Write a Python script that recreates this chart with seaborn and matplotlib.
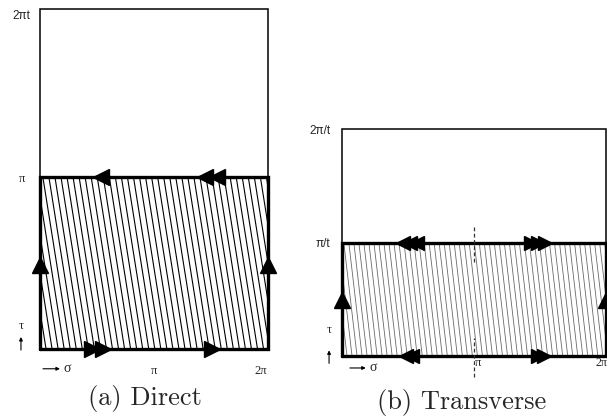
import numpy as np
import pandas as pd
import matplotlib
matplotlib.use("Agg")
import matplotlib.pyplot as plt
import seaborn as sns

PI = np.pi

# ---------------- data (in units of pi) ----------------
# panel (a) Direct
a_top = 1.977            # 2*pi*t
a_mid = 1.0              # pi
a_hatch_spacing = 0.053
a_hatch_shear = 0.24
a_bottom_right_arrows = [0.456, 0.553, 1.509]
a_top_left_arrows = [0.535, 1.447, 1.553]
a_side_up_arrows = [0.488]
a_ylabels = ["π", "2πt"]
a_ylabel_pos = [(-0.158, 0.988), (-0.167, 1.936)]
a_xlabels = ["π", "2π"]
a_xlabel_pos = [(1.0, -0.128), (1.939, -0.128)]

# panel (b) Transverse
b_top = 2.009            # 2*pi/t
b_mid = 1.0              # pi/t
b_hatch_spacing = 0.038
b_hatch_shear = 0.10
b_top_left_arrows = [0.462, 0.515, 0.568]
b_top_right_arrows = [1.432, 1.485, 1.538]
b_bottom_left_arrows = [0.485, 0.530]
b_bottom_right_arrows = [1.485, 1.530]
b_side_up_arrows = [0.496]
b_dash_x = 1.0
b_dash_segments = [(0.832, 1.159), (-0.186, 0.159)]
b_ylabels = ["π/t", "2π/t"]
b_ylabel_pos = [(-0.144, 0.991), (-0.167, 1.991)]
b_xlabels = ["π", "2π"]
b_xlabel_pos = [(1.03, -0.062), (1.92, -0.065)]

captions = ["(a) Direct", "(b) Transverse"]

# ---------------- figure ----------------
sns.set_style("white")
W, H = 607, 420
fig = plt.figure(figsize=(W / 100, H / 100), dpi=100)


def px_axes(x0, y0, x1, y1):
    return fig.add_axes([x0 / W, 1 - y1 / H, (x1 - x0) / W, (y1 - y0) / H])


def hatch_df(width, height, spacing, shear):
    starts = np.arange(-shear - spacing, width + spacing, spacing)
    rows = []
    for i, s in enumerate(starts):
        rows.append((i, s * PI, height * PI))
        rows.append((i, (s + shear) * PI, 0.0))
    return pd.DataFrame(rows, columns=["line", "x", "y"])


def draw_panel(ax, top, mid, spacing, shear, hatch_color, hatch_lw):
    df = hatch_df(2.0, mid, spacing, shear)
    sns.lineplot(data=df, x="x", y="y", units="line", estimator=None, sort=False,
                 color=hatch_color, linewidth=hatch_lw, ax=ax, legend=False)
    # outer (thin) rectangle
    ox = [0, 2 * PI, 2 * PI, 0, 0]
    oy = [0, 0, top * PI, top * PI, 0]
    ax.plot(ox, oy, color="black", lw=1.1, clip_on=False, solid_joinstyle="miter")
    # hatched (thick) rectangle
    ix = [0, 2 * PI, 2 * PI, 0, 0]
    iy = [0, 0, mid * PI, mid * PI, 0]
    ax.plot(ix, iy, color="black", lw=2.4, clip_on=False, solid_joinstyle="miter")
    ax.set_xlim(0, 2 * PI)
    ax.set_ylim(0, top * PI)
    ax.set_axis_off()


def arrows(ax, xs, y, marker, ms):
    ax.plot(np.array(xs) * PI, [y * PI] * len(xs), linestyle="none", marker=marker,
            ms=ms, color="black", clip_on=False, zorder=5)


def side_arrows(ax, ys, ms):
    for xv in (0, 2 * PI):
        ax.plot([xv] * len(ys), np.array(ys) * PI, linestyle="none", marker="^",
                ms=ms, color="black", clip_on=False, zorder=5)


def labels(ax, texts, pos, family, size, ha="center"):
    for t, (x, y) in zip(texts, pos):
        ax.text(x * PI, y * PI, t, ha=ha, va="center", fontsize=size,
                family=family, clip_on=False)


serif = ["Liberation Serif", "DejaVu Serif"]
sans = ["Liberation Sans", "DejaVu Sans"]


def small_axis_arrows(ax, tau_x, tau_y, sig_x, sig_y):
    # tau arrow (vertical), sigma arrow (horizontal)
    ax.text(tau_x * PI, tau_y[0] * PI, "τ", ha="center", va="center", fontsize=9,
            family=serif)
    ax.annotate("", xy=(tau_x * PI, tau_y[1] * PI), xytext=(tau_x * PI, tau_y[2] * PI),
                arrowprops=dict(arrowstyle="-|>", lw=0.8, color="black", mutation_scale=5,
                                shrinkA=0, shrinkB=0), annotation_clip=False)
    ax.annotate("", xy=(sig_x[1] * PI, sig_y * PI), xytext=(sig_x[0] * PI, sig_y * PI),
                arrowprops=dict(arrowstyle="-|>", lw=0.8, color="black", mutation_scale=5,
                                shrinkA=0, shrinkB=0), annotation_clip=False)
    ax.text(sig_x[2] * PI, sig_y * PI, "σ", ha="center", va="center", fontsize=10,
            family=serif)


# ---- panel a ----
axa = px_axes(40, 9, 268, 349)
draw_panel(axa, a_top, a_mid, a_hatch_spacing, a_hatch_shear, "black", 0.8)
arrows(axa, a_bottom_right_arrows, 0, ">", 12)
arrows(axa, a_top_left_arrows, a_mid, "<", 12)
side_arrows(axa, a_side_up_arrows, 12)
labels(axa, a_ylabels[:1], a_ylabel_pos[:1], serif, 9)
labels(axa, a_ylabels[1:], a_ylabel_pos[1:], sans, 8.5)
labels(axa, a_xlabels, a_xlabel_pos, serif, 9)
small_axis_arrows(axa, -0.167, (0.134, 0.07, -0.006), (0.026, 0.175, 0.235), -0.115)

# ---- panel b ----
axb = px_axes(342, 129, 606, 356)
draw_panel(axb, b_top, b_mid, b_hatch_spacing, b_hatch_shear, "#6a6a6a", 0.6)
arrows(axb, b_top_left_arrows, b_mid, "<", 9.5)
arrows(axb, b_top_right_arrows, b_mid, ">", 9.5)
arrows(axb, b_bottom_left_arrows, 0, "<", 9.5)
arrows(axb, b_bottom_right_arrows, 0, ">", 9.5)
side_arrows(axb, b_side_up_arrows, 11)
for y0, y1 in b_dash_segments:
    axb.plot([b_dash_x * PI] * 2, [y0 * PI, y1 * PI], color="#333333", lw=0.9,
             linestyle=(0, (3, 2)), clip_on=False)
labels(axb, b_ylabels, b_ylabel_pos, sans, 8.5)
labels(axb, b_xlabels[:1], b_xlabel_pos[:1], serif, 9)
labels(axb, b_xlabels[1:], b_xlabel_pos[1:], serif, 8.5, ha="left")
small_axis_arrows(axb, -0.098, (0.23, 0.05, -0.065), (0.06, 0.18, 0.235), -0.106)

# ---- captions ----
fig.text(145 / W, 1 - 398 / H, captions[0], ha="center", va="center", fontsize=19,
         family="cmr10")
fig.text(462 / W, 1 - 402 / H, captions[1], ha="center", va="center", fontsize=19,
         family="cmr10")

fig.savefig("out.png", dpi=100)
